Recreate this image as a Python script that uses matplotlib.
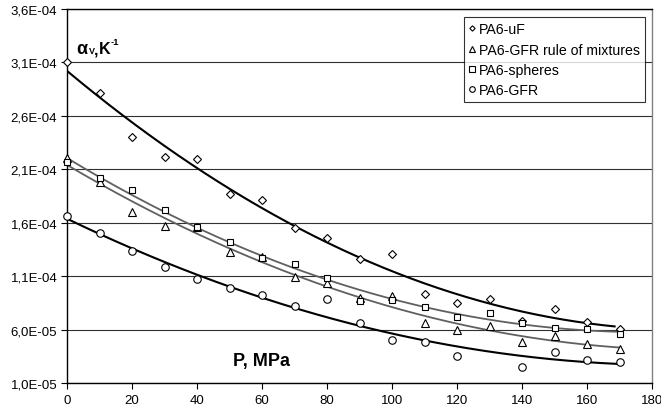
import numpy as np
import matplotlib
matplotlib.use("Agg")
import matplotlib.pyplot as plt
from matplotlib.ticker import FuncFormatter

plt.rcParams['font.family'] = ['Liberation Sans', 'DejaVu Sans']

# Pressure, MPa
pressure = [0, 10, 20, 30, 40, 50, 60, 70, 80, 90, 100, 110, 120, 130, 140, 150, 160, 170]

# Volumetric thermal expansion coefficient, 1/K
pa6_uf = [3.10e-4, 2.81e-4, 2.40e-4, 2.22e-4, 2.20e-4, 1.87e-4, 1.81e-4, 1.55e-4, 1.46e-4,
          1.26e-4, 1.31e-4, 9.33e-5, 8.50e-5, 8.90e-5, 6.86e-5, 7.95e-5, 6.70e-5, 6.08e-5]
pa6_gfr_mix = [2.21e-4, 1.98e-4, 1.70e-4, 1.575e-4, 1.565e-4, 1.326e-4, 1.279e-4, 1.098e-4,
               1.036e-4, 8.95e-5, 9.20e-5, 6.64e-5, 6.00e-5, 6.33e-5, 4.84e-5, 5.45e-5,
               4.68e-5, 4.21e-5]
pa6_spheres = [2.168e-4, 2.02e-4, 1.909e-4, 1.72e-4, 1.565e-4, 1.425e-4, 1.27e-4, 1.216e-4,
               1.085e-4, 8.73e-5, 8.82e-5, 8.11e-5, 7.23e-5, 7.55e-5, 6.64e-5, 6.18e-5,
               6.08e-5, 5.60e-5]
pa6_gfr = [1.663e-4, 1.504e-4, 1.335e-4, 1.191e-4, 1.073e-4, 9.89e-5, 9.29e-5, 8.26e-5,
           8.86e-5, 6.67e-5, 5.08e-5, 4.89e-5, 3.53e-5, np.nan, 2.55e-5, 3.96e-5,
           3.18e-5, 2.97e-5]

series_labels = ["PA6-uF", "PA6-GFR rule of mixtures", "PA6-spheres", "PA6-GFR"]
y_ticks = [1.0e-5, 6.0e-5, 1.1e-4, 1.6e-4, 2.1e-4, 2.6e-4, 3.1e-4, 3.6e-4]
x_ticks = [0, 20, 40, 60, 80, 100, 120, 140, 160, 180]

W, H = 661, 414
fig = plt.figure(figsize=(W / 100, H / 100), dpi=100)
ax = fig.add_axes([67 / W, 1 - 384.3 / H, 585 / W, 374.3 / H])

styles = [
    dict(marker='D', ms=3.6, fit_color='black', fit_lw=1.5, fit_end=168.5),
    dict(marker='^', ms=5.2, fit_color='#606060', fit_lw=1.3, fit_end=170),
    dict(marker='s', ms=5.0, fit_color='#606060', fit_lw=1.3, fit_end=170),
    dict(marker='o', ms=5.4, fit_color='black', fit_lw=1.5, fit_end=170),
]

x = np.array(pressure, dtype=float)
for values, label, st in zip([pa6_uf, pa6_gfr_mix, pa6_spheres, pa6_gfr], series_labels, styles):
    y = np.array(values, dtype=float)
    ok = ~np.isnan(y)
    # second-order polynomial trend line
    coef = np.polyfit(x[ok], y[ok], 2)
    xf = np.linspace(0, st['fit_end'], 200)
    ax.plot(xf, np.polyval(coef, xf), color=st['fit_color'], lw=st['fit_lw'], zorder=2)
    ax.plot(x[ok], y[ok], linestyle='none', marker=st['marker'], ms=st['ms'],
            mfc='white', mec='black', mew=0.8, label=label, zorder=3, clip_on=False)

ax.set_xlim(0, 180)
ax.set_ylim(1.0e-5, 3.6e-4)
ax.set_xticks(x_ticks)
ax.set_yticks(y_ticks)
ax.yaxis.set_major_formatter(FuncFormatter(lambda v, p: f"{v:.1E}".replace('.', ',')))
ax.grid(axis='y', color='#303030', lw=0.8)
ax.set_axisbelow(True)

for side in ['left', 'bottom', 'top']:
    ax.spines[side].set_color('black')
    ax.spines[side].set_linewidth(1.0)
ax.spines['right'].set_color('#808080')
ax.spines['right'].set_linewidth(1.0)

ax.tick_params(axis='both', direction='out', length=4, width=0.8, labelsize=9.5, colors='black')
ax.tick_params(axis='x', pad=4)
ax.tick_params(axis='y', pad=3)


def ftext(px, py, s, size):
    fig.text(px / W, 1 - py / H, s, fontsize=size, fontweight='bold',
             ha='left', va='baseline')


# y-axis quantity label: alpha_V, K^-1
ftext(76.5, 54.3, 'α', 13)
ftext(89.0, 54.3, 'V', 6.5)
ftext(94.0, 54.3, ',', 11.5)
ftext(99.3, 54.3, 'K', 11.5)
ftext(111.0, 45.0, '-1', 6.8)

# x-axis quantity label
ftext(233.3, 366.0, 'P, MPa', 13)

leg = ax.legend(loc='upper right', bbox_to_anchor=((645 - 67) / 585, (384.3 - 18.3) / 374.3),
                borderaxespad=0, fontsize=10.2, frameon=True, fancybox=False, markerscale=0.75,
                handlelength=0.4, handletextpad=0.3, borderpad=0.35, labelspacing=0.45)
leg.get_frame().set_edgecolor('black')
leg.get_frame().set_linewidth(0.8)
leg.set_zorder(5)

fig.savefig('out.png', dpi=100)
